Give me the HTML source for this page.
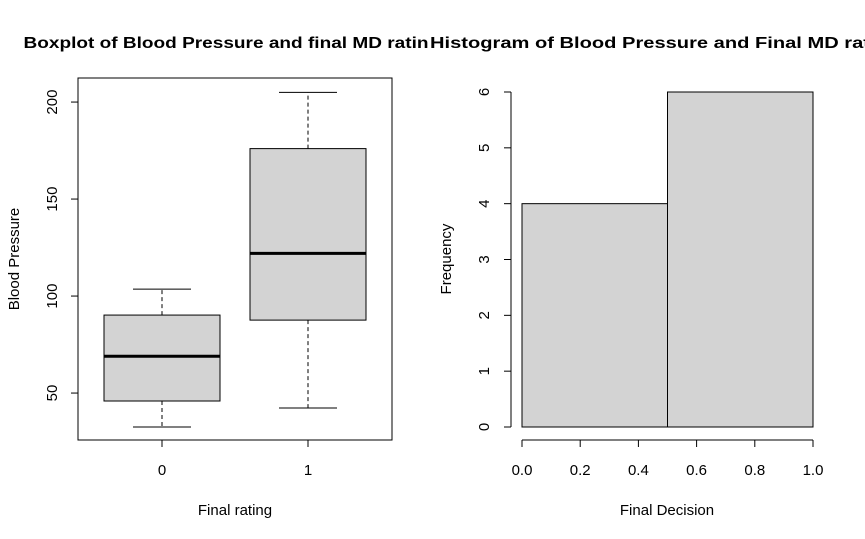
<!DOCTYPE html>
<html><head><meta charset="utf-8"><style>
html,body{margin:0;padding:0;background:#fff;}
svg{display:block;font-family:"Liberation Sans",Arial,sans-serif;}
</style></head><body>
<svg id="chart" width="865" height="539" viewBox="0 0 865 539">
<text x="226" y="48" font-size="16" font-weight="bold" text-anchor="middle" textLength="405" lengthAdjust="spacingAndGlyphs">Boxplot of Blood Pressure and final MD ratin</text>
<text x="430" y="48" font-size="16" font-weight="bold" textLength="440" lengthAdjust="spacingAndGlyphs">Histogram of Blood Pressure and Final MD rat</text>
<g id="box"></g>
<g id="hist"></g>
</svg>
<script>
const boxCategories = ["0", "1"];
const boxLowWhisker = [32.5, 42.3];
const boxQ1 = [45.9, 87.6];
const boxMedian = [69, 122];
const boxQ3 = [90.2, 176];
const boxHighWhisker = [103.6, 205];
const boxYTicks = [50, 100, 150, 200];

const histBreaks = [0, 0.5, 1.0];
const histCounts = [4, 6];
const histXTicks = ["0.0", "0.2", "0.4", "0.6", "0.8", "1.0"];
const histYTicks = [0, 1, 2, 3, 4, 5, 6];

const FS = 15;
const NS = "http://www.w3.org/2000/svg";
function mk(parent, tag, attrs, text) {
  const e = document.createElementNS(NS, tag);
  for (const k in attrs) e.setAttribute(k, attrs[k]);
  if (text !== undefined) e.textContent = text;
  parent.appendChild(e);
  return e;
}

// Boxplot
const bg = document.getElementById("box");
const byMin = 25.8, byMax = 212.4, bTop = 78, bBot = 440;
const by = v => bBot - (v - byMin) / (byMax - byMin) * (bBot - bTop);
const bx = i => 162 + i * 146;
let e = mk(bg, "rect", {x: 78, y: bTop, width: 314, height: bBot - bTop, fill: "none", stroke: "#000"});


boxYTicks.forEach(t => {
  const y = by(t);
  e = mk(bg, "line", {x1: 71, x2: 78, y1: y, y2: y, stroke: "#000"});
  
  
  e = mk(bg, "text", {x: 0, y: 0, "font-size": FS, "text-anchor": "middle", transform: `translate(57,${y}) rotate(-90)`}, t);
  
  
});
boxCategories.forEach((c, i) => {
  const x = bx(i), hw = 58;
  e = mk(bg, "line", {x1: x, x2: x, y1: bBot, y2: bBot + 7, stroke: "#000"});
  
  
  e = mk(bg, "text", {x: x, y: 475, "font-size": FS, "text-anchor": "middle"}, c);
  
  
  e = mk(bg, "line", {x1: x, x2: x, y1: by(boxQ1[i]), y2: by(boxLowWhisker[i]), stroke: "#000", "stroke-dasharray": "4,3"});
  
  
  e = mk(bg, "line", {x1: x, x2: x, y1: by(boxQ3[i]), y2: by(boxHighWhisker[i]), stroke: "#000", "stroke-dasharray": "4,3"});
  
  
  e = mk(bg, "line", {x1: x - hw / 2, x2: x + hw / 2, y1: by(boxLowWhisker[i]), y2: by(boxLowWhisker[i]), stroke: "#000"});
  
  
  e = mk(bg, "line", {x1: x - hw / 2, x2: x + hw / 2, y1: by(boxHighWhisker[i]), y2: by(boxHighWhisker[i]), stroke: "#000"});
  
  
  e = mk(bg, "rect", {x: x - hw, y: by(boxQ3[i]), width: hw * 2, height: by(boxQ1[i]) - by(boxQ3[i]), fill: "#d3d3d3", stroke: "#000"});
  
  
  e = mk(bg, "line", {x1: x - hw, x2: x + hw, y1: by(boxMedian[i]), y2: by(boxMedian[i]), stroke: "#000", "stroke-width": 3});
  
  
});
e = mk(bg, "text", {x: 235, y: 515, "font-size": FS, "text-anchor": "middle"}, "Final rating");


e = mk(bg, "text", {x: 0, y: 0, "font-size": FS, "text-anchor": "middle", transform: "translate(19,259) rotate(-90)"}, "Blood Pressure");



// Histogram
const hg = document.getElementById("hist");
const hx = v => 522 + v * (813 - 522);
const hy = v => 427 - v / 6 * (427 - 92);
histCounts.forEach((c, i) => {
  e = mk(hg, "rect", {x: hx(histBreaks[i]), y: hy(c), width: hx(histBreaks[i + 1]) - hx(histBreaks[i]), height: hy(0) - hy(c), fill: "#d3d3d3", stroke: "#000"});
  
  
});
e = mk(hg, "line", {x1: hx(0), x2: hx(1), y1: 440, y2: 440, stroke: "#000"});


histXTicks.forEach(t => {
  const x = hx(parseFloat(t));
  e = mk(hg, "line", {x1: x, x2: x, y1: 440, y2: 447, stroke: "#000"});
  
  
  e = mk(hg, "text", {x: x, y: 475, "font-size": FS, "text-anchor": "middle"}, t);
  
  
});
e = mk(hg, "line", {x1: 511, x2: 511, y1: hy(0), y2: hy(6), stroke: "#000"});


histYTicks.forEach(t => {
  const y = hy(t);
  e = mk(hg, "line", {x1: 504, x2: 511, y1: y, y2: y, stroke: "#000"});
  
  
  e = mk(hg, "text", {x: 0, y: 0, "font-size": FS, "text-anchor": "middle", transform: `translate(489,${y}) rotate(-90)`}, t);
  
  
});
e = mk(hg, "text", {x: 667, y: 515, "font-size": FS, "text-anchor": "middle"}, "Final Decision");


e = mk(hg, "text", {x: 0, y: 0, "font-size": FS, "text-anchor": "middle", transform: "translate(451,259) rotate(-90)"}, "Frequency");


</script>
</body></html>
